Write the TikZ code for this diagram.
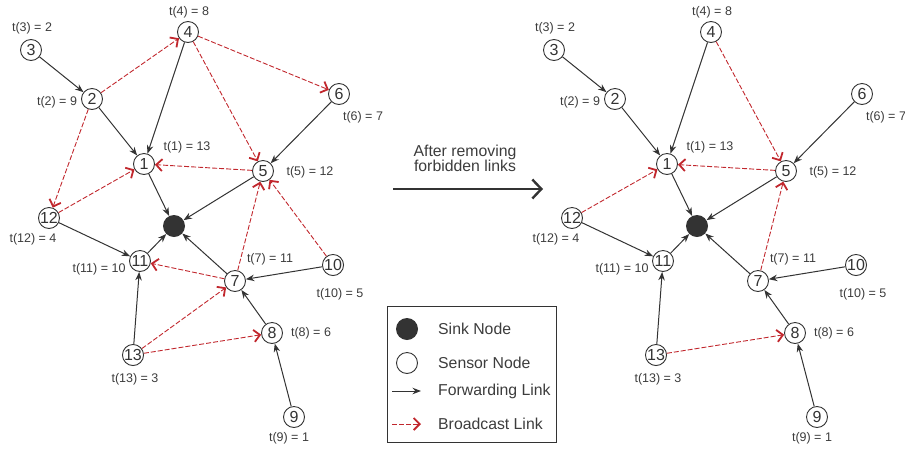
\documentclass[tikz,border=0pt]{standalone}
\usepackage{fontspec}
\setmainfont{Liberation Sans}
\usetikzlibrary{arrows.meta}
\definecolor{ink}{HTML}{333333}
\definecolor{bred}{HTML}{C1272D}
\definecolor{txt}{HTML}{3C3C3C}

\tikzset{
  sensor/.style={circle,draw=ink,fill=white,line width=0.9pt,minimum size=21pt,
    inner sep=0pt,text=ink,font=\fontsize{16}{16}\selectfont},
  sinknode/.style={circle,fill=ink,minimum size=22pt,inner sep=0pt},
  tlabel/.style={text=txt,font=\fontsize{12.5}{13}\selectfont,inner sep=0pt},
  legtext/.style={text=txt,font=\fontsize{15.8}{16}\selectfont,inner sep=0pt,anchor=west},
  fwd/.style={draw=ink,line width=1pt,-{Stealth[length=8.5pt,width=6.5pt]}},
  bcast/.style={draw=bred,line width=0.9pt,dash pattern=on 5pt off 2pt,
    -{Straight Barb[length=6pt,width=12pt,line width=1.8pt]}},
}

% sensor field: nodes and their time labels, names prefixed by #1
\newcommand\netnodes[1]{%
  \node[sinknode] (#1-s) at (174,226) {};
  \node[sensor] (#1-1) at (144,164) {1};
  \node[sensor] (#1-2) at (92,99) {2};
  \node[sensor] (#1-3) at (31,50) {3};
  \node[sensor] (#1-4) at (188,32) {4};
  \node[sensor] (#1-5) at (263,171) {5};
  \node[sensor] (#1-6) at (339,94) {6};
  \node[sensor] (#1-7) at (235,281) {7};
  \node[sensor] (#1-8) at (272,333) {8};
  \node[sensor] (#1-9) at (294,417) {9};
  \node[sensor] (#1-10) at (333,265) {10};
  \node[sensor] (#1-11) at (140,261) {11};
  \node[sensor] (#1-12) at (49,218) {12};
  \node[sensor] (#1-13) at (133,355) {13};
  \node[tlabel] (#1-t1) at (187,147) {t(1) = 13};
  \node[tlabel] (#1-t2) at (57,102) {t(2) = 9};
  \node[tlabel] (#1-t3) at (32,28) {t(3) = 2};
  \node[tlabel] (#1-t4) at (189,12) {t(4) = 8};
  \node[tlabel] (#1-t5) at (310,172) {t(5) = 12};
  \node[tlabel] (#1-t6) at (363,117) {t(6) = 7};
  \node[tlabel] (#1-t7) at (270,259) {t(7) = 11};
  \node[tlabel] (#1-t8) at (311,333) {t(8) = 6};
  \node[tlabel] (#1-t9) at (289,438) {t(9) = 1};
  \node[tlabel] (#1-t10) at (340,294) {t(10) = 5};
  \node[tlabel] (#1-t11) at (99,269) {t(11) = 10};
  \node[tlabel] (#1-t12) at (33,239) {t(12) = 4};
  \node[tlabel] (#1-t13) at (135,379) {t(13) = 3};
}

% forwarding tree shared by both fields
\newcommand\fwdlinks[1]{%
  \draw[fwd] (#1-3) -- (#1-2);
  \draw[fwd] (#1-2) -- (#1-1);
  \draw[fwd] (#1-4) -- (#1-1);
  \draw[fwd] (#1-6) -- (#1-5);
  \draw[fwd] (#1-1) -- (#1-s);
  \draw[fwd] (#1-5) -- (#1-s);
  \draw[fwd] (#1-12) -- (#1-11);
  \draw[fwd] (#1-11) -- (#1-s);
  \draw[fwd] (#1-7) -- (#1-s);
  \draw[fwd] (#1-10) -- (#1-7);
  \draw[fwd] (#1-8) -- (#1-7);
  \draw[fwd] (#1-13) -- (#1-11);
  \draw[fwd] (#1-9) -- (#1-8);
}

\begin{document}
\begin{tikzpicture}[x=1pt,y=-1pt]
  \useasboundingbox (0,0) rectangle (905,448);

  % all links
  \begin{scope}
    \netnodes{L}
    \fwdlinks{L}
    \draw[bcast] (L-2) -- (L-4);
    \draw[bcast] (L-2) -- (L-12);
    \draw[bcast] (L-4) -- (L-6);
    \draw[bcast] (L-4) -- (L-5);
    \draw[bcast] (L-5) -- (L-1);
    \draw[bcast] (L-12) -- (L-1);
    \draw[bcast] (L-7) -- (L-11);
    \draw[bcast] (L-7) -- (L-5);
    \draw[bcast] (L-10) -- (L-5);
    \draw[bcast] (L-13) -- (L-7);
    \draw[bcast] (L-13) -- (L-8);
  \end{scope}

  % remaining links
  \begin{scope}[xshift=523pt]
    \netnodes{R}
    \fwdlinks{R}
    \draw[bcast] (R-4) -- (R-5);
    \draw[bcast] (R-5) -- (R-1);
    \draw[bcast] (R-12) -- (R-1);
    \draw[bcast] (R-7) -- (R-5);
    \draw[bcast] (R-13) -- (R-8);
  \end{scope}

  % transition arrow
  \node[text=txt,font=\fontsize{15.8}{15.3}\selectfont,align=center,inner sep=0pt]
    (caption) at (465,158.5) {After removing\\forbidden links};
  \coordinate (arrA) at (393,189);
  \coordinate (arrB) at (543,189);
  \draw[ink,line width=1.1pt,-{Straight Barb[length=9pt,width=19pt,line width=2.4pt]}]
    (arrA) -- (arrB);

  % legend
  \node[draw=ink,line width=0.8pt,minimum width=169pt,minimum height=136pt,inner sep=0pt]
    (legend) at (471.5,374.5) {};
  \node[sinknode] (legsink) at (407,329) {};
  \node[legtext] (legsinktxt) at (438,329) {Sink Node};
  \node[sensor] (legsensor) at (407,363) {};
  \node[legtext] (legsensortxt) at (438,363) {Sensor Node};
  \coordinate (lfa) at (392,391);
  \coordinate (lfb) at (421,391);
  \draw[fwd] (lfa) -- (lfb);
  \node[legtext] (legfwdtxt) at (438,391) {Forwarding Link};
  \coordinate (lba) at (392,424);
  \coordinate (lbb) at (421,424);
  \draw[bcast] (lba) -- (lbb);
  \node[legtext] (legbctxt) at (438,424) {Broadcast Link};
\end{tikzpicture}
\end{document}
